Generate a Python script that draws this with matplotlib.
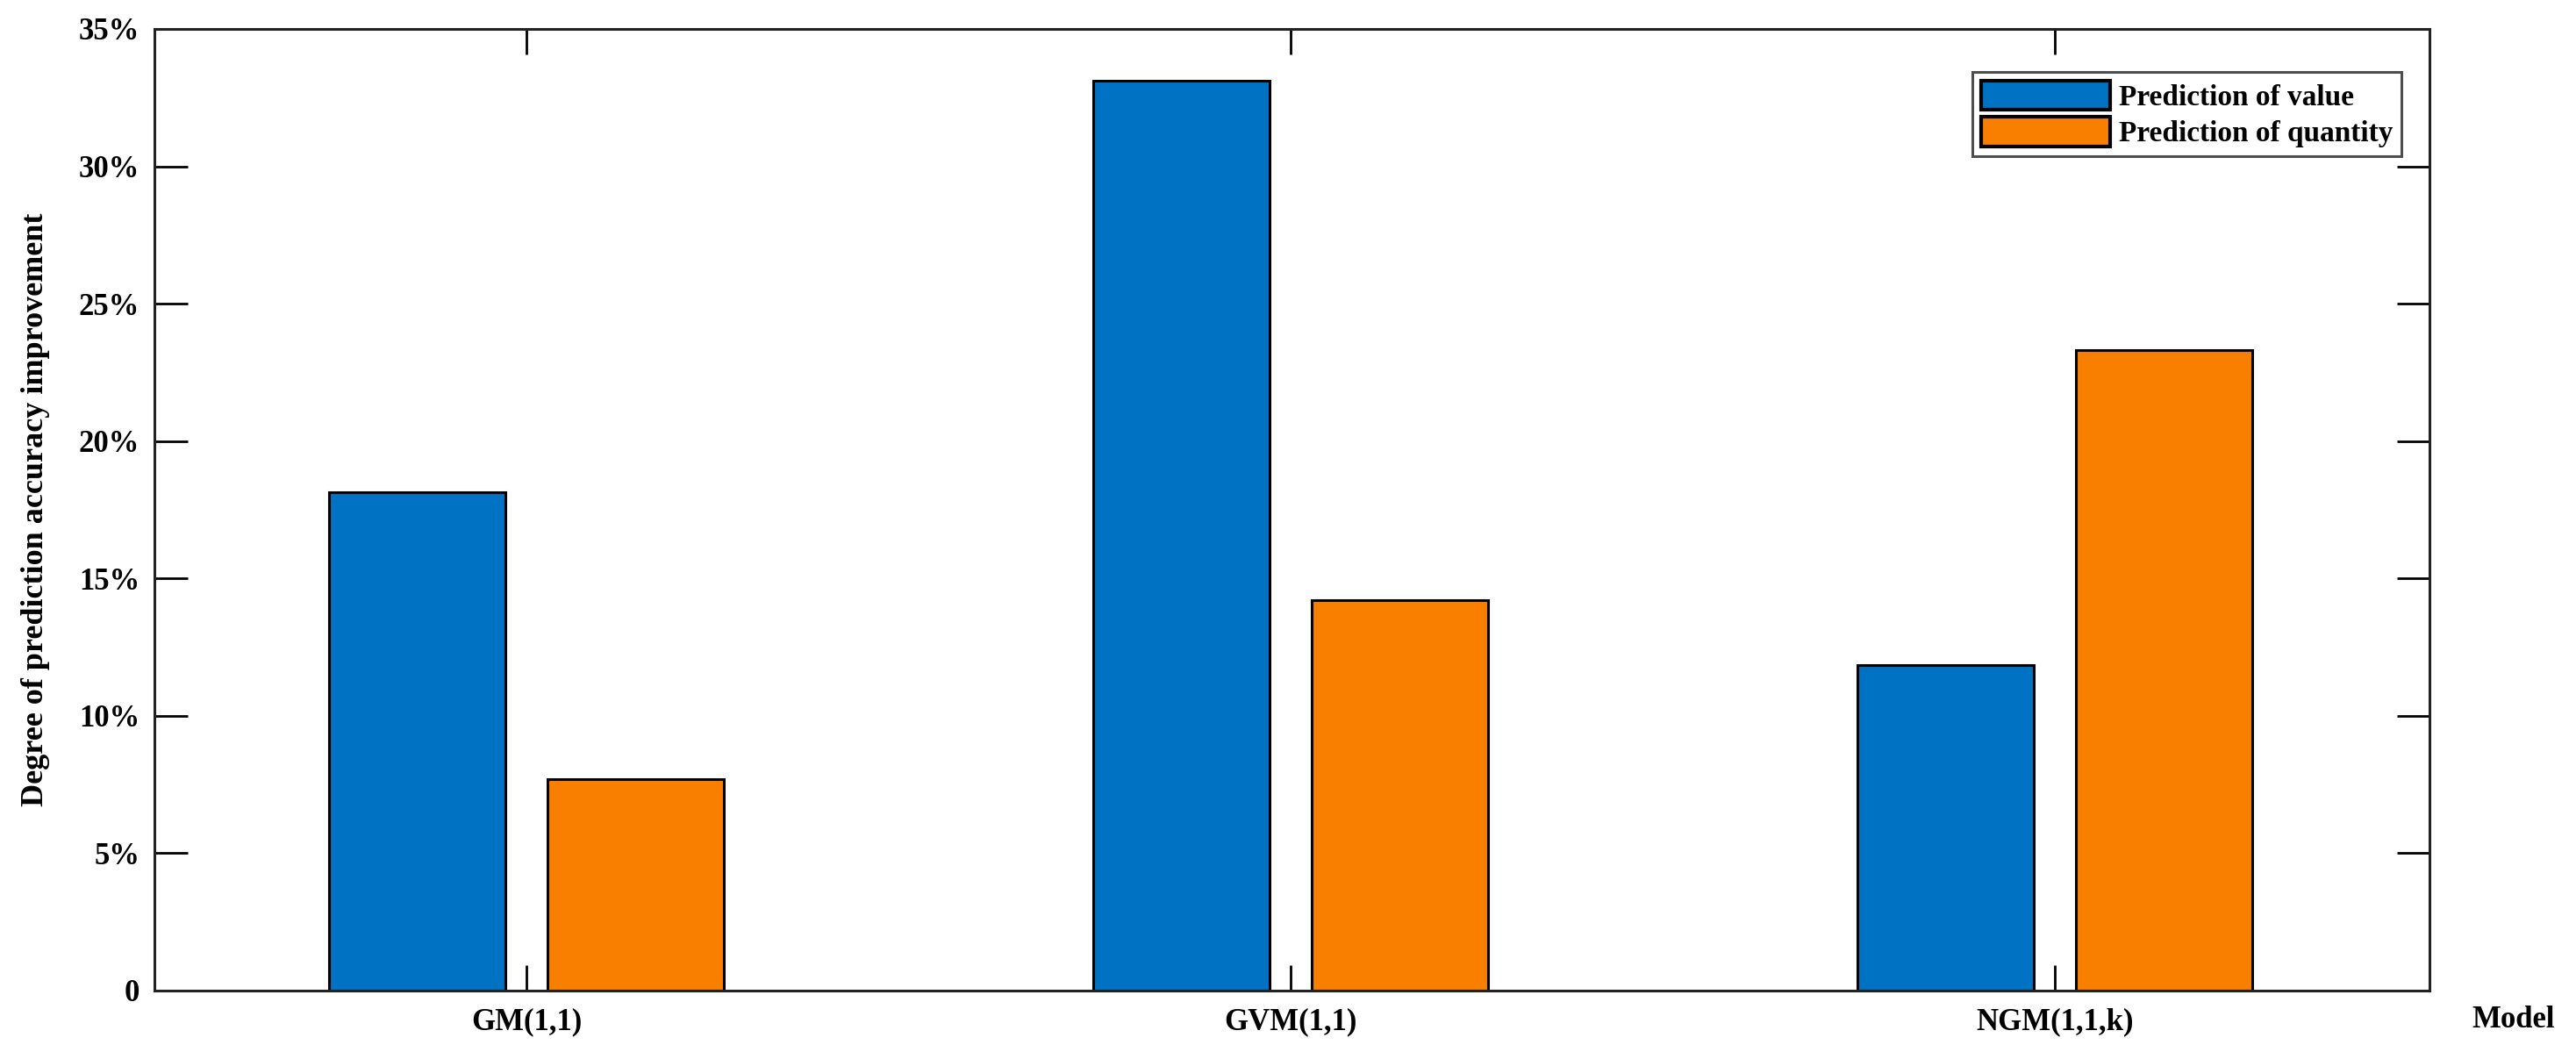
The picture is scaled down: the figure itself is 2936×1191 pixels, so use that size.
import numpy as np
import matplotlib
matplotlib.use('Agg')
import matplotlib.pyplot as plt
from matplotlib.ticker import FuncFormatter

# Dados (%)
modelos = ['GM(1,1)', 'GVM(1,1)', 'NGM(1,1,k)']
valor = [18.15, 33.1, 11.85]
quantidade = [7.7, 14.2, 23.3]
series = ['Prediction of value', 'Prediction of quantity']

plt.rcParams['font.family'] = ['Liberation Serif', 'DejaVu Serif']
plt.rcParams['font.weight'] = 'bold'

fig = plt.figure(figsize=(29.36, 11.91), dpi=100)
ax = fig.add_axes([0.0599, 0.0521, 0.8832, 0.9202])

x = np.arange(1, len(modelos) + 1)
largura = 0.231
desloc = 0.143
ax.bar(x - desloc, valor, largura, color='#0072C3', edgecolor='black',
       linewidth=2.2, label=series[0], zorder=2)
ax.bar(x + desloc, quantidade, largura, color='#F87F00', edgecolor='black',
       linewidth=2.2, label=series[1], zorder=2)

ax.set_xlim(0.513, 3.49)
ax.set_ylim(0, 35)
ax.set_xticks(x)
ax.set_xticklabels(modelos)
ax.set_yticks(np.arange(0, 36, 5))
ax.yaxis.set_major_formatter(FuncFormatter(lambda v, p: '0' if v == 0 else f'{v:.0f}%'))

ax.tick_params(axis='both', direction='in', labelsize=25, width=2, top=True, right=True)
ax.tick_params(axis='y', length=27, pad=12)
ax.tick_params(axis='x', length=21, pad=14)
for s in ax.spines.values():
    s.set_linewidth(2.2)
    s.set_color('#222222')

ax.set_ylabel('Degree of prediction accuracy improvement', fontsize=26, fontweight='bold')
ax.yaxis.set_label_coords(-0.046, 0.5)
ax.set_xlabel('Model', fontsize=25, fontweight='bold')
ax.xaxis.set_label_coords(1.037, -0.016)

leg = ax.legend(loc='upper right', bbox_to_anchor=(0.9877, 0.9553), borderaxespad=0,
                fontsize=24, frameon=True, fancybox=False, handlelength=4.4,
                handleheight=1.15, handletextpad=0.3, labelspacing=0.2, borderpad=0.3)
leg.get_frame().set_edgecolor('#222222')
leg.get_frame().set_linewidth(2.2)
for h in leg.legend_handles:
    h.set_linewidth(3)

fig.savefig('out.png', dpi=100)
